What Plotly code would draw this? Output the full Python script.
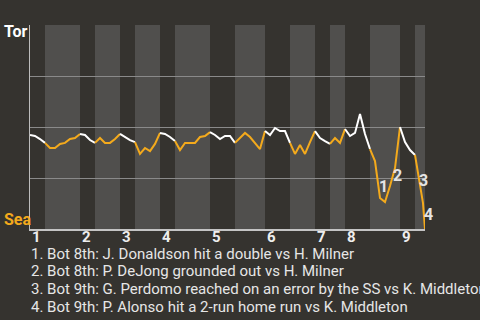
import plotly.graph_objects as go

# ---- data ----
progress = list(range(78)) + [77.8, 78.6, 79.0]
tor_win_pct = [
    46.1, 45.6, 44.1, 42.2, 39.7, 39.7, 41.7, 42.2, 44.1, 44.6,
    46.6, 46.1, 43.6, 42.2, 44.6, 42.2, 42.2, 44.1, 46.6, 45.1,
    43.6, 42.6, 36.8, 39.7, 38.2, 41.7, 47.1, 46.6, 45.1, 43.1,
    38.7, 42.2, 42.2, 42.2, 45.1, 45.6, 47.5, 46.1, 44.1, 45.6,
    45.6, 42.2, 44.6, 47.1, 45.1, 42.2, 39.2, 48.0, 46.1, 49.5,
    48.0, 48.0, 42.2, 36.8, 41.2, 36.8, 42.6, 48.0, 44.6, 43.1,
    41.7, 44.6, 42.2, 49.0, 45.6, 47.1, 56.4, 46.6, 39.2, 33.3,
    15.2, 13.2, 21.1, 29.9, 50.0, 42.6, 38.7, 36.3, 25.5, 12.7,
    0.0,
]
# half-inning start positions (top1, bot1, top2, ...), plus game end
half_starts = [0, 3, 10, 13, 18, 21, 26, 29, 36, 41, 47, 52, 57, 60, 63, 68, 74, 77]
game_end = 79
inning_labels = ["1", "2", "3", "4", "5", "6", "7", "8", "9"]

event_nums = ["1", "2", "3", "4"]
event_x = [70.6, 73.5, 78.6, 79.0]
event_xshift = [0, 0, 0, 3]
event_y = [20.6, 26.0, 24.0, 6.9]
event_text = [
    "1. Bot 8th: J. Donaldson hit a double vs H. Milner",
    "2. Bot 8th: P. DeJong grounded out vs H. Milner",
    "3. Bot 9th: G. Perdomo reached on an error by the SS vs K. Middleton",
    "4. Bot 9th: P. Alonso hit a 2-run home run vs K. Middleton",
]
team_top, team_bottom = "Tor", "Sea"

# ---- style ----
BG = "#35332f"
BAND = "#504f4d"
ORANGE = "#f4aa1c"
WHITE = "#ffffff"
FONT = "Roboto"

fig = go.Figure()

bounds = half_starts + [game_end]
shapes = []
for k in range(len(half_starts)):
    a, b = bounds[k], bounds[k + 1]
    if k % 2 == 1:
        shapes.append(dict(type="rect", xref="x", yref="paper", x0=a, x1=b, y0=0, y1=1,
                           fillcolor=BAND, line=dict(width=0), layer="below"))
    idx = [i for i, p in enumerate(progress) if a <= p <= b]
    fig.add_trace(go.Scatter(
        x=[progress[i] for i in idx], y=[tor_win_pct[i] for i in idx],
        mode="lines", line=dict(color=WHITE if k % 2 == 0 else ORANGE, width=2),
        hoverinfo="skip", showlegend=False))

annotations = []
for k, lab in enumerate(inning_labels):
    annotations.append(dict(x=half_starts[2 * k], y=-8 / 204, xref="x", yref="paper",
                            text=lab, showarrow=False, xanchor="left", yanchor="middle",
                            font=dict(family=FONT, size=15, color="#eeeeee", weight="bold")))
for n, ex, xs, ey in zip(event_nums, event_x, event_xshift, event_y):
    annotations.append(dict(x=ex, y=ey, xref="x", yref="y", text=n, showarrow=False,
                            xanchor="center", yanchor="middle", xshift=xs,
                            font=dict(family=FONT, size=16, color="#e4e4e4", weight="bold")))
line_centers = [253.5, 271, 289, 307]
for t, yc in zip(event_text, line_centers):
    annotations.append(dict(x=0, y=(229 - yc) / 204, xref="paper", yref="paper", text=t,
                            showarrow=False, xanchor="left", yanchor="middle", xshift=-1,
                            font=dict(family=FONT, size=15, color="#e6e6e6")))
annotations.append(dict(x=-28.5 / 395, y=(229 - 31) / 204, xref="paper", yref="paper",
                        text=team_top, showarrow=False, xanchor="left", yanchor="middle",
                        font=dict(family=FONT, size=16, color=WHITE, weight="bold")))
annotations.append(dict(x=-28.5 / 395, y=(229 - 219.5) / 204, xref="paper", yref="paper",
                        text=team_bottom, showarrow=False, xanchor="left", yanchor="middle",
                        font=dict(family=FONT, size=16, color=ORANGE, weight="bold")))

fig.update_layout(
    width=480, height=320,
    margin=dict(l=30, r=55, t=25, b=91),
    paper_bgcolor=BG, plot_bgcolor=BG,
    shapes=shapes, annotations=annotations,
    xaxis=dict(range=[0, game_end], showgrid=False, zeroline=False, showticklabels=False,
               ticks="", showline=True, linecolor="#c4c4c4", linewidth=2),
    yaxis=dict(range=[0, 100], tick0=0, dtick=25, showgrid=True, gridcolor="#8a8a8a",
               gridwidth=1, zeroline=False, showticklabels=False, ticks="",
               showline=True, linecolor="#bdbdbd", linewidth=1),
    showlegend=False,
)
fig.write_html("out.html")
